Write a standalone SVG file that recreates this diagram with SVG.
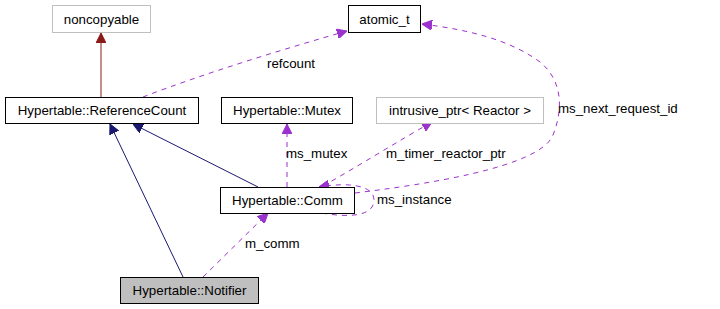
<svg xmlns="http://www.w3.org/2000/svg" width="720" height="309" viewBox="0 0 720 309">
  <style>
    text { font-family: "Liberation Sans", Arial, sans-serif; font-size: 13.3px; fill: #000; }
    .node text { text-anchor: middle; }
    .box { fill: #fff; stroke: #000; stroke-width: 1; }
    .ext { fill: #fff; stroke: #bfbfbf; stroke-width: 1; }
    .cur { fill: #bfbfbf; stroke: #000; stroke-width: 1; }
    .inh { fill: none; stroke: #191970; stroke-width: 1; }
    .inh-red { fill: none; stroke: #8b1a1a; stroke-width: 1; }
    .use { fill: none; stroke: #9a32cd; stroke-width: 1; stroke-dasharray: 5,5; }
  </style>
  <defs>
    <marker id="arrNavy" viewBox="0 0 10 10" refX="10" refY="5" markerWidth="10" markerHeight="10" markerUnits="userSpaceOnUse" orient="auto">
      <path d="M0,0 L10,5 L0,10 Z" fill="#191970" stroke="#191970"/>
    </marker>
    <marker id="arrRed" viewBox="0 0 10 10" refX="10" refY="5" markerWidth="10" markerHeight="10" markerUnits="userSpaceOnUse" orient="auto">
      <path d="M0,0 L10,5 L0,10 Z" fill="#8b1a1a" stroke="#8b1a1a"/>
    </marker>
    <marker id="arrPurple" viewBox="0 0 10 10" refX="10" refY="5" markerWidth="10" markerHeight="10" markerUnits="userSpaceOnUse" orient="auto">
      <path d="M0,0 L10,5 L0,10 Z" fill="#9a32cd" stroke="#9a32cd"/>
    </marker>
  </defs>

  <!-- connectors -->
  <g id="edges">
    <path class="inh-red" d="M101,97 L101,33" marker-end="url(#arrRed)"/>
    <path class="inh" d="M258,187 L133,124" marker-end="url(#arrNavy)"/>
    <path class="inh" d="M183,277 L110,124" marker-end="url(#arrNavy)"/>
    <path class="use" d="M143,97 C200,75 280,50 347,31" marker-end="url(#arrPurple)"/>
    <text x="267" y="68">refcount</text>
    <path class="use" d="M287,187 L287,124" marker-end="url(#arrPurple)"/>
    <text x="286" y="158">ms_mutex</text>
    <path class="use" d="M323,186 C360,165 400,140 432,122" marker-end="url(#arrPurple)"/>
    <text x="386" y="158">m_timer_reactor_ptr</text>
    <path class="use" d="M355,193 C420,185 540,168 553,135 C565,105 560,78 540,62 C510,40 470,30 422,24" marker-end="url(#arrPurple)"/>
    <text x="558" y="113">ms_next_request_id</text>
    <path class="use" d="M322,213 C350,218 374,216 374,200 C374,185 348,182 319,187" marker-end="url(#arrPurple)"/>
    <text x="377" y="204">ms_instance</text>
    <path class="use" d="M203,277 L268,213" marker-end="url(#arrPurple)"/>
    <text x="245" y="248">m_comm</text>
  </g>

  <g id="noncopyable" class="node">
    <rect class="ext" x="52.5" y="5.5" width="98" height="27"/>
    <text x="101.5" y="23.5">noncopyable</text>
  </g>
  <g id="atomic_t" class="node">
    <rect class="box" x="348.5" y="5.5" width="72" height="27"/>
    <text x="384.5" y="23.5">atomic_t</text>
  </g>
  <g id="ReferenceCount" class="node">
    <rect class="box" x="5.5" y="97.5" width="193" height="26"/>
    <text x="102" y="115">Hypertable::ReferenceCount</text>
  </g>
  <g id="Mutex" class="node">
    <rect class="box" x="221.5" y="97.5" width="131" height="26"/>
    <text x="287" y="115">Hypertable::Mutex</text>
  </g>
  <g id="intrusive_ptr" class="node">
    <rect class="ext" x="376.5" y="97.5" width="167" height="26"/>
    <text x="460" y="115">intrusive_ptr&lt; Reactor &gt;</text>
  </g>
  <g id="Comm" class="node">
    <rect class="box" x="220.5" y="187.5" width="134" height="26"/>
    <text x="287.5" y="205">Hypertable::Comm</text>
  </g>
  <g id="Notifier" class="node">
    <rect class="cur" x="120.5" y="277.5" width="138" height="26"/>
    <text x="189.5" y="295">Hypertable::Notifier</text>
  </g>
</svg>
